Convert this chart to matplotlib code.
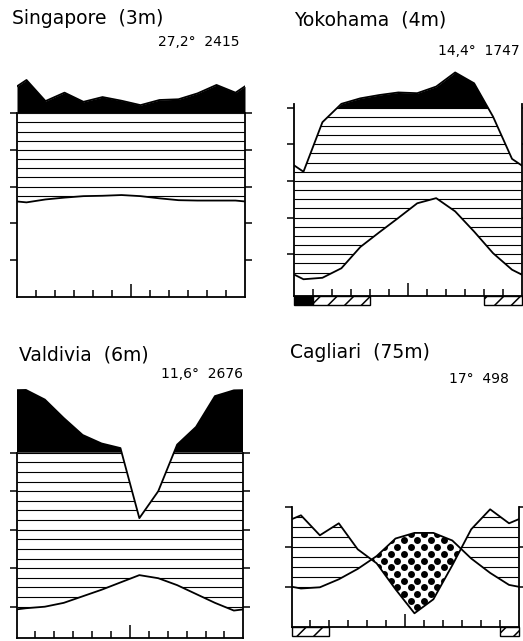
import numpy as np
import matplotlib
matplotlib.use('Agg')
import matplotlib.pyplot as plt
from matplotlib.path import Path
from matplotlib.patches import Rectangle

plt.rcParams['font.family'] = ['DejaVu Sans']
plt.rcParams['hatch.linewidth'] = 1.1

W, H = 523, 641

months = np.arange(12) + 0.5

# monthly means Jan..Dec, temperature in deg C, precipitation in mm
sing_temp = [25.7, 26.5, 27.0, 27.4, 27.5, 27.7, 27.4, 26.8, 26.3, 26.2, 26.2, 26.2]
sing_prec = [281, 166, 212, 162, 188, 168, 144, 172, 176, 208, 254, 212]

yoko_temp = [3.2, 3.6, 6.2, 12.0, 16.0, 19.9, 23.9, 25.3, 21.7, 16.2, 10.3, 5.8]
yoko_prec = [65, 92, 120, 150, 168, 182, 178, 214, 291, 232, 95, 72]

vald_temp = [18.2, 17.4, 15.6, 13.3, 11.0, 9.0, 9.6, 10.0, 11.0, 12.7, 14.4, 16.3]
vald_prec = [66, 80, 142, 234, 394, 424, 426, 376, 280, 192, 148, 124]

cagl_temp = [9.7, 10.0, 12.0, 14.6, 17.8, 22.2, 23.6, 23.6, 21.7, 17.2, 13.6, 10.6]
cagl_prec = [56, 46, 52, 39, 32, 19, 7, 14, 31, 49, 59, 52]

# frost months: (first month index, number of months)
yoko_frost_black = [(0, 1)]
yoko_frost_hatch = [(1, 3), (10, 2)]
cagl_frost_hatch = [(0, 2), (11, 1)]

fig = plt.figure(figsize=(W / 100, H / 100), dpi=100)


def prec_units(p):
    # 10 deg = 20 mm up to 100 mm, above that 10 deg = 200 mm
    p = np.asarray(p, float)
    return np.where(p <= 100, p / 2, 50 + (p - 100) / 20)


def wrap(v):
    v = np.asarray(v, float)
    e = (v[0] + v[-1]) / 2
    return np.r_[e, v, e]


def px(x, y):
    return x / W, 1 - y / H


def panel(temp, prec, left, right, y0, scale, ybot, ytop, frame_top, yticks,
          south=False, frost_black=(), frost_hatch=()):
    ax = fig.add_axes([left / W, 1 - (y0 - ybot * scale) / H,
                       (right - left) / W, (ytop - ybot) * scale / H])
    if south:
        temp, prec = np.roll(temp, 6), np.roll(prec, 6)
    xs = np.r_[0, months, 12]
    t = wrap(temp)
    u = prec_units(wrap(prec))

    xd = np.linspace(0, 12, 2401)
    td = np.interp(xd, xs, t)
    ud = np.interp(xd, xs, u)

    # humid period, horizontal hatching
    humid = ax.fill_between(xd, td, np.minimum(ud, 50), where=ud >= td,
                            interpolate=True, facecolor='none', edgecolor='none', lw=0)
    paths = humid.get_paths()
    if paths:
        clip = Path.make_compound_path(*paths)
        hl = ax.hlines(np.arange(50, ybot, -2.5), 0, 12, color='black', lw=0.8)
        hl.set_clip_path(clip, ax.transData)

    # above 100 mm, black
    ax.fill_between(xd, 50, ud, where=ud > 50, interpolate=True,
                    color='black', lw=0)

    # dry period, dots
    dry = ax.fill_between(xd, ud, td, where=td > ud, interpolate=True,
                          facecolor='none', edgecolor='none', lw=0)
    paths = dry.get_paths()
    if paths:
        clip = Path.make_compound_path(*paths)
        dx, dy = 0.70, 1.67
        gx, gy = [], []
        for j, yy in enumerate(np.arange(0, ytop, dy)):
            for xx in np.arange(0, 12.5, dx):
                gx.append(xx + (j % 2) * dx / 2)
                gy.append(yy)
        dots = ax.scatter(gx, gy, s=25, color='black', lw=0)
        dots.set_clip_path(clip, ax.transData)

    ax.plot(xs, t, color='black', lw=1.3)
    ax.plot(xs, u, color='black', lw=1.3)

    h = 9 / scale
    for m0, n in frost_black:
        ax.add_patch(Rectangle((m0, ybot - h), n, h, facecolor='black',
                               edgecolor='black', lw=1, clip_on=False))
    for m0, n in frost_hatch:
        ax.add_patch(Rectangle((m0, ybot - h), n, h, facecolor='white', hatch='//',
                               edgecolor='black', lw=1, clip_on=False))

    ax.set_xlim(0, 12)
    ax.set_ylim(ybot, ytop)
    ax.set_xticks([6])
    ax.set_xticks([1, 2, 3, 4, 5, 7, 8, 9, 10, 11], minor=True)
    ax.set_yticks(yticks)
    ax.tick_params(axis='x', which='major', direction='in', length=9.5, width=1.1,
                   labelbottom=False)
    ax.tick_params(axis='x', which='minor', direction='in', length=5, width=1.1)
    ax.tick_params(axis='y', direction='out', length=5, width=1.1, left=True,
                   right=True, labelleft=False)
    ax.spines['top'].set_visible(False)
    for s in ('left', 'right'):
        ax.spines[s].set_bounds(ybot, frame_top)
    for s in ax.spines.values():
        s.set_linewidth(1.3)
    ax.patch.set_alpha(0)
    return ax


panel(sing_temp, sing_prec, 17, 245, 296.7, 3.67, 0, 62, 50, [10, 20, 30, 40, 50])
panel(yoko_temp, yoko_prec, 294, 521.5, 291, 3.67, -1.4, 62, 51, [10, 20, 30, 40, 50],
      frost_black=yoko_frost_black, frost_hatch=yoko_frost_hatch)
panel(vald_temp, vald_prec, 16.5, 243.3, 645.2, 3.85, 1.8, 68, 50, [10, 20, 30, 40, 50],
      south=True)
panel(cagl_temp, cagl_prec, 291.5, 518.5, 627.3, 4.0, 0, 32, 30, [10, 20, 30],
      frost_hatch=cagl_frost_hatch)

titles = [
    ('Singapore  (3m)', '27,2°  2415', 12, 24, 240, 46),
    ('Yokohama  (4m)', '14,4°  1747', 293.7, 25, 520, 55),
    ('Valdivia  (6m)', '11,6°  2676', 19, 360.7, 243, 378.3),
    ('Cagliari  (75m)', '17°  498', 290, 357.5, 509, 383),
]
for name, clim, nx, ny, cx, cy in titles:
    fig.text(*px(nx, ny), name, fontsize=13.5, ha='left', va='baseline')
    fig.text(*px(cx, cy), clim, fontsize=10, ha='right', va='baseline')

fig.savefig('out.png', dpi=100)
